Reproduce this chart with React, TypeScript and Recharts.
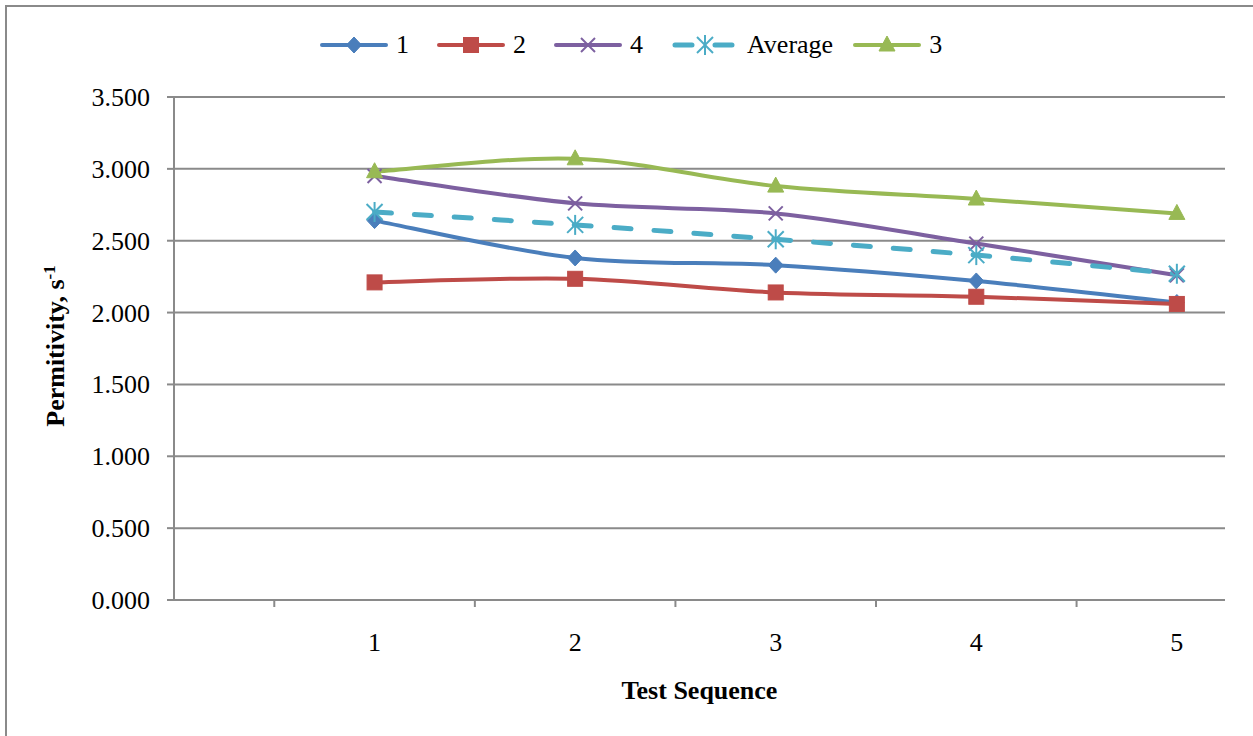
import React from 'react';
import { LineChart, Line, XAxis, YAxis, CartesianGrid } from 'recharts';

const categories = [1, 2, 3, 4, 5];
const series1 = [2.64, 2.38, 2.33, 2.22, 2.07];
const series2 = [2.21, 2.235, 2.14, 2.11, 2.06];
const series4 = [2.95, 2.76, 2.69, 2.48, 2.26];
const seriesAvg = [2.7, 2.61, 2.51, 2.4, 2.27];
const series3 = [2.98, 3.07, 2.88, 2.79, 2.69];

const yTicks = [0, 0.5, 1, 1.5, 2, 2.5, 3, 3.5];
const xTickMarks = [0.5, 1.5, 2.5, 3.5, 4.5];
const xTicks = [...xTickMarks, ...categories].sort((a, b) => a - b);

const seriesDefs = [
  { key: 's1', name: '1', color: '#4a7ebb', shape: 'diamond', dashed: false, values: series1 },
  { key: 's2', name: '2', color: '#be4b48', shape: 'square', dashed: false, values: series2 },
  { key: 's4', name: '4', color: '#7d60a0', shape: 'x', dashed: false, values: series4 },
  { key: 'avg', name: 'Average', color: '#4bacc6', shape: 'star', dashed: true, values: seriesAvg },
  { key: 's3', name: '3', color: '#98b954', shape: 'triangle', dashed: false, values: series3 },
];

const data = categories.map((c, i) => {
  const row: Record<string, number> = { x: c };
  seriesDefs.forEach((s) => {
    row[s.key] = s.values[i];
  });
  return row;
});

const FONT = '"Liberation Serif", "Times New Roman", Times, serif';
const GRID = '#8a8a8a';
const FS = 26;

// Excel-like smoothed line (Catmull-Rom through points)
function excelCurve(context: any) {
  let pts: [number, number][] = [];
  return {
    areaStart() {},
    areaEnd() {},
    lineStart() {
      pts = [];
    },
    point(x: number, y: number) {
      pts.push([+x, +y]);
    },
    lineEnd() {
      const n = pts.length;
      if (n === 0) return;
      context.moveTo(pts[0][0], pts[0][1]);
      for (let i = 0; i < n - 1; i++) {
        const p0 = pts[Math.max(i - 1, 0)];
        const p1 = pts[i];
        const p2 = pts[i + 1];
        const p3 = pts[Math.min(i + 2, n - 1)];
        context.bezierCurveTo(
          p1[0] + (p2[0] - p0[0]) / 6,
          p1[1] + (p2[1] - p0[1]) / 6,
          p2[0] - (p3[0] - p1[0]) / 6,
          p2[1] - (p3[1] - p1[1]) / 6,
          p2[0],
          p2[1]
        );
      }
    },
  };
}

function MarkerShape({ shape, cx, cy, color }: { shape: string; cx: number; cy: number; color: string }) {
  if (cx == null || cy == null || isNaN(cx) || isNaN(cy)) return null;
  switch (shape) {
    case 'diamond':
      return (
        <polygon
          points={`${cx},${cy - 8} ${cx + 7.5},${cy} ${cx},${cy + 8} ${cx - 7.5},${cy}`}
          fill={color}
          stroke={color}
          strokeWidth={1}
        />
      );
    case 'square':
      return <rect x={cx - 7.5} y={cy - 7.5} width={15} height={15} fill={color} stroke={color} strokeWidth={1} />;
    case 'x':
      return (
        <g stroke={color} strokeWidth={2}>
          <line x1={cx - 7} y1={cy - 7} x2={cx + 7} y2={cy + 7} />
          <line x1={cx - 7} y1={cy + 7} x2={cx + 7} y2={cy - 7} />
        </g>
      );
    case 'star':
      return (
        <g stroke={color} strokeWidth={2}>
          <line x1={cx - 8} y1={cy - 8} x2={cx + 8} y2={cy + 8} />
          <line x1={cx - 8} y1={cy + 8} x2={cx + 8} y2={cy - 8} />
          <line x1={cx} y1={cy - 10} x2={cx} y2={cy + 10} />
        </g>
      );
    case 'triangle':
      return (
        <polygon
          points={`${cx},${cy - 9} ${cx + 8},${cy + 6} ${cx - 8},${cy + 6}`}
          fill={color}
          stroke={color}
          strokeWidth={1}
        />
      );
    default:
      return null;
  }
}

function XTick(props: any) {
  const { x, y, payload } = props;
  const v = payload.value;
  if (Math.abs(v - Math.round(v)) > 0.01) {
    return <line x1={x} y1={y} x2={x} y2={y + 7} stroke={GRID} strokeWidth={2} />;
  }
  return (
    <text x={x} y={y + 51} textAnchor="middle" fontFamily={FONT} fontSize={FS} fill="#000">
      {v}
    </text>
  );
}

function YTick(props: any) {
  const { x, y, payload } = props;
  return (
    <text x={x} y={y + 9} textAnchor="end" fontFamily={FONT} fontSize={FS} fill="#000">
      {Number(payload.value).toFixed(3)}
    </text>
  );
}

function Legend() {
  return (
    <div
      style={{
        position: 'absolute',
        left: 320,
        top: 28,
        height: 34,
        display: 'flex',
        alignItems: 'center',
        fontFamily: FONT,
        fontSize: FS,
        color: '#000',
      }}
    >
      {seriesDefs.map((s) => (
        <div key={s.key} style={{ display: 'flex', alignItems: 'center', marginRight: s.key === 'avg' ? 20 : 28 }}>
          <svg width={68} height={24} style={{ display: 'block' }}>
            <line
              x1={s.dashed ? 4 : 2}
              y1={12}
              x2={s.dashed ? 64 : 66}
              y2={12}
              stroke={s.color}
              strokeWidth={s.dashed ? 5 : 4}
              strokeLinecap="round"
              strokeDasharray={s.dashed ? '17 23' : undefined}
            />
            <MarkerShape shape={s.shape} cx={34} cy={12} color={s.color} />
          </svg>
          <span style={{ marginLeft: 8, lineHeight: '30px' }}>{s.name}</span>
        </div>
      ))}
    </div>
  );
}

export default function App() {
  return (
    <div
      style={{
        position: 'absolute',
        left: 0,
        top: 0,
        width: 1253,
        height: 736,
        overflow: 'hidden',
        background: '#fff',
      }}
    >
      <div
        style={{
          position: 'absolute',
          left: 5,
          top: 5,
          width: 1300,
          height: 800,
          border: `2px solid ${GRID}`,
        }}
      />
      <div style={{ position: 'absolute', left: 0, top: 0 }}>
        <LineChart width={1253} height={736} data={data} margin={{ top: 97, right: 28, bottom: 76, left: 74 }}>
          <CartesianGrid horizontal vertical={false} stroke={GRID} strokeWidth={2} />
          <XAxis
            dataKey="x"
            type="number"
            domain={[0, 5.24]}
            ticks={xTicks}
            interval={0}
            tickLine={false}
            tickSize={0}
            tickMargin={0}
            tick={<XTick />}
            height={60}
            axisLine={{ stroke: GRID, strokeWidth: 2 }}
            allowDataOverflow
            label={{
              content: (p: any) => {
                const vb = p.viewBox || { x: 174, y: 600, width: 1051 };
                return (
                  <text
                    x={vb.x + vb.width / 2}
                    y={vb.y + 99}
                    textAnchor="middle"
                    fontFamily={FONT}
                    fontSize={FS}
                    fontWeight="bold"
                    fill="#000"
                  >
                    Test Sequence
                  </text>
                );
              },
            }}
          />
          <YAxis
            type="number"
            domain={[0, 3.5]}
            ticks={yTicks}
            interval={0}
            width={100}
            tickSize={7}
            tickMargin={17}
            tickLine={{ stroke: GRID, strokeWidth: 2 }}
            axisLine={{ stroke: GRID, strokeWidth: 2 }}
            tick={<YTick />}
            label={{
              content: () => (
                <text
                  transform="translate(64, 346) rotate(-90)"
                  textAnchor="middle"
                  fontFamily={FONT}
                  fontSize={FS}
                  fontWeight="bold"
                  fill="#000"
                >
                  Permitivity, s
                  <tspan dy={-9} fontSize={17}>
                    -1
                  </tspan>
                </text>
              ),
            }}
          />
          {seriesDefs.map((s) => (
            <Line
              key={s.key}
              dataKey={s.key}
              name={s.name}
              type={excelCurve as any}
              stroke={s.color}
              strokeWidth={s.dashed ? 5 : 4}
              strokeDasharray={s.dashed ? '17 23' : undefined}
              strokeLinecap="round"
              isAnimationActive={false}
              dot={(p: any) => (
                <MarkerShape key={`${s.key}-${p.index}`} shape={s.shape} cx={p.cx} cy={p.cy} color={s.color} />
              )}
              activeDot={false}
            />
          ))}
        </LineChart>
      </div>
      <Legend />
    </div>
  );
}
